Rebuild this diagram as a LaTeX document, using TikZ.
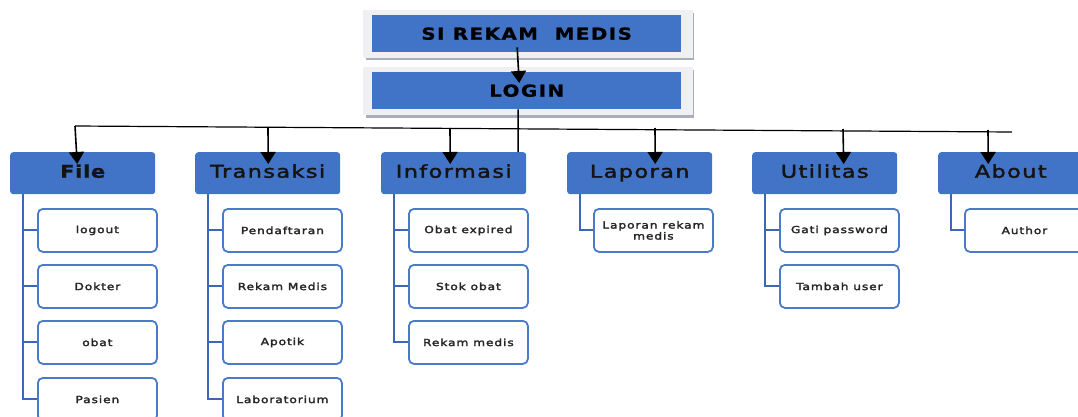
\documentclass[tikz,border=0pt]{standalone}
\usepackage{fontspec}
\setmainfont{DejaVu Sans}
\usetikzlibrary{arrows.meta}
\definecolor{hblue}{HTML}{4174C6}
\definecolor{lblue}{HTML}{4A7BCB}
\definecolor{cblue}{HTML}{3A68B4}
\definecolor{frameg}{HTML}{F0F0F2}
\definecolor{shadowg}{HTML}{A9AFBA}
\newfontfamily\titlefont[FakeStretch=1.2,LetterSpace=9,FakeBold=1]{DejaVu Sans Bold}
\newfontfamily\catfont[FakeStretch=1.28,LetterSpace=8,FakeBold=2.2]{DejaVu Sans}
\newfontfamily\catbfont[FakeStretch=1.2,LetterSpace=4,FakeBold=1]{DejaVu Sans Bold}
\newfontfamily\subfont[FakeStretch=1.25,LetterSpace=9,FakeBold=2.5]{DejaVu Sans}
\tikzset{
  topbox/.style={fill=hblue, minimum width=309pt, minimum height=37pt, inner sep=0pt, anchor=north west, font=\titlefont\fontsize{16.5}{16.5}\selectfont, text=black},
  framebox/.style={fill=frameg, draw=frameg, minimum width=329pt, minimum height=47pt, inner sep=0pt, anchor=north west},
  cat/.style={fill=hblue, rounded corners=3pt, minimum width=145pt, minimum height=42pt, inner sep=0pt, anchor=north west, font=\catfont\fontsize{17.5}{17.5}\selectfont, text=black!92, text height=13pt, text depth=4pt},
  sub/.style={draw=lblue, line width=1.8pt, fill=white, rounded corners=5pt, minimum width=119pt, minimum height=43pt, inner sep=0pt, anchor=north west, font=\subfont\fontsize{9.8}{11}\selectfont, align=center, text=black!85},
  conn/.style={draw=cblue, line width=2pt},
  bar/.style={draw=black, line width=1.2pt},
  arr/.style={draw=black, line width=1.6pt, -{Triangle[length=12pt,width=15pt]}}
}
\begin{document}
\begin{tikzpicture}[x=1pt,y=-1pt]
\useasboundingbox (0,0) rectangle (1078,417);
\clip (0,0) rectangle (1078,417);
% top frames
\fill[shadowg] (366,13) rectangle (694,60);
\node[framebox] (tf) at (363,10) {};
\node[topbox] (t) at (372,15) {SI REKAM\ \ MEDIS};
\fill[shadowg] (366,70) rectangle (694,118);
\node[framebox] (lf) at (363,67) {};
\node[topbox] (l) at (372,72) {LOGIN};
\draw[arr] ([xshift=-9.5pt,yshift=5pt]t.south) -- ([xshift=-7.5pt,yshift=-11pt]l.north);
% bar
\coordinate (bl) at (75,126);
\coordinate (br) at (1012,132);
\draw[bar] (bl) -- (br);
% categories
\node[cat] (f) at (10,152) {\catbfont File};
\node[cat] (tr) at (195,152) {Transaksi};
\node[cat] (in) at (381,152) {Informasi};
\node[cat] (lp) at (567,152) {Laporan};
\node[cat] (ut) at (752,152) {Utilitas};
\node[cat] (ab) at (938,152) {About};
\coordinate (lend) at (518,152);
\draw[bar, line width=1.5pt] ([xshift=-8.5pt]l.south) -- (lend);
% arrows
\draw[arr] (bl) -- ([xshift=-5.5pt,yshift=-12pt]f.north);
\draw[arr] (268,127) -- ([xshift=0.5pt,yshift=-12pt]tr.north);
\draw[arr] (450,128) -- ([xshift=-3.5pt,yshift=-12pt]in.north);
\draw[arr] (655,128) -- ([xshift=15.5pt,yshift=-12pt]lp.north);
\draw[arr] (843,129) -- ([xshift=19pt,yshift=-12pt]ut.north);
\draw[arr] (988,130) -- ([xshift=-22.5pt,yshift=-12pt]ab.north);
% sub items
\node[sub] (f1) at (37,208) {logout};
\node[sub] (f2) at (37,264) {Dokter};
\node[sub] (f3) at (37,320) {obat};
\node[sub] (f4) at (37,377) {Pasien};
\node[sub] (t1) at (222,208) {Pendaftaran};
\node[sub] (t2) at (222,264) {Rekam Medis};
\node[sub] (t3) at (222,320) {Apotik};
\node[sub] (t4) at (222,377) {Laboratorium};
\node[sub] (i1) at (408,208) {Obat expired};
\node[sub] (i2) at (408,264) {Stok obat};
\node[sub] (i3) at (408,320) {Rekam medis};
\node[sub] (p1) at (593,208) {Laporan rekam\\medis};
\node[sub] (u1) at (779,208) {Gati password};
\node[sub] (u2) at (779,264) {Tambah user};
\node[sub] (a1) at (964,208) {Author};
% connectors
\foreach \c/\s in {f/f1,f/f2,f/f3,f/f4,tr/t1,tr/t2,tr/t3,tr/t4,in/i1,in/i2,in/i3,lp/p1,ut/u1,ut/u2,ab/a1}
  \draw[conn] ([xshift=13pt]\c.south west) |- (\s.west);
\end{tikzpicture}
\end{document}
